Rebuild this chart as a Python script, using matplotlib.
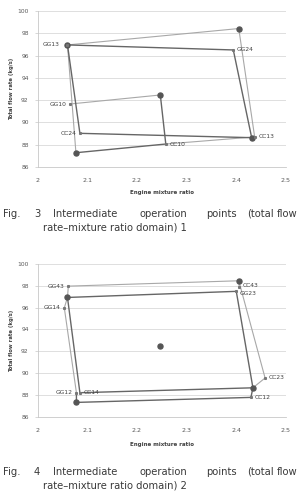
import matplotlib.pyplot as plt
import numpy as np

# ---- Fig. 3 data (engine mixture ratio, total flow rate kg/s) ----
f3_dark_x = [2.060, 2.394, 2.431, 2.085, 2.060]      # GG13 -> GG24 -> corner -> CC24 -> GG13
f3_dark_y = [96.95, 96.50, 88.63, 89.02, 96.95]
f3_dark2_x = [2.077, 2.258, 2.247]                    # corner -> CC10 -> nominal
f3_dark2_y = [87.28, 88.06, 92.46]
f3_light_x = [2.077, 2.060, 2.405, 2.437, 2.258]      # corner -> GG13 -> corner -> CC13 -> CC10
f3_light_y = [87.28, 96.95, 98.42, 88.70, 88.06]
f3_light2_x = [2.247, 2.065]                          # nominal -> GG10
f3_light2_y = [92.46, 91.65]
f3_dot_x = [2.060, 2.405, 2.431, 2.077, 2.247]
f3_dot_y = [96.95, 98.42, 88.63, 87.28, 92.46]
f3_names = ['GG13', 'GG10', 'CC24', 'GG24', 'CC13', 'CC10']
f3_name_x = [2.060, 2.065, 2.085, 2.394, 2.437, 2.258]
f3_name_y = [96.95, 91.65, 89.02, 96.50, 88.70, 88.06]
f3_side = ['l', 'l', 'l', 'r', 'r', 'r']

# ---- Fig. 4 data ----
f4_dark_x = [2.060, 2.400, 2.4335, 2.085, 2.060]     # A -> GG23 -> C -> CC14 -> A
f4_dark_y = [96.94, 97.50, 88.65, 88.20, 96.94]
f4_dark2_x = [2.078, 2.078, 2.4295, 2.4335]          # GG12 -> D -> CC12 -> C
f4_dark2_y = [88.20, 87.31, 87.77, 88.65]
f4_light_x = [2.078, 2.0536, 2.060, 2.0617, 2.405, 2.458, 2.4335]
f4_light_y = [88.20, 95.99, 96.94, 97.98, 98.47, 89.55, 88.65]
f4_light2_x = [2.405, 2.406]                          # B -> CC43
f4_light2_y = [98.47, 97.86]
f4_dot_x = [2.060, 2.405, 2.4335, 2.078, 2.247]
f4_dot_y = [96.94, 98.47, 88.65, 87.31, 92.45]
f4_names = ['GG43', 'GG14', 'GG12', 'CC14', 'CC43', 'GG23', 'CC23', 'CC12']
f4_name_x = [2.0617, 2.0536, 2.078, 2.085, 2.406, 2.400, 2.458, 2.4295]
f4_name_y = [97.98, 95.99, 88.20, 88.20, 97.86, 97.50, 89.55, 87.77]
f4_side = ['l', 'l', 'l', 'r', 'r', 'r', 'r', 'r']

x_ticks = [2, 2.1, 2.2, 2.3, 2.4, 2.5]
x_ticklabels = ['2', '2.1', '2.2', '2.3', '2.4', '2.5']
y_ticks = [86, 88, 90, 92, 94, 96, 98, 100]

DARK = '#666666'
LIGHT = '#a8a8a8'
TXT = '#404040'

fig = plt.figure(figsize=(2.98, 4.97), dpi=100)


def panel(ax, dark, dark2, light, light2, dots, names, nx, ny, side, label_offsets):
    ax.plot(light[0], light[1], color=LIGHT, lw=0.8, zorder=2)
    ax.plot(light2[0], light2[1], color=LIGHT, lw=0.8, zorder=2)
    ax.plot(dark[0], dark[1], color=DARK, lw=1.0, zorder=3)
    ax.plot(dark2[0], dark2[1], color=DARK, lw=1.0, zorder=3)
    ax.plot(dots[0], dots[1], 'o', color='#555555', ms=3.6, ls='none', zorder=4)
    ax.plot(nx, ny, 's', color='#777777', ms=1.2, ls='none', zorder=4)
    for i, n in enumerate(names):
        dx, dy = label_offsets.get(n, (0, 0))
        if side[i] == 'l':
            ax.annotate(n, (nx[i], ny[i]), xytext=(-2.5 + dx, dy), textcoords='offset points',
                        ha='right', va='center', fontsize=4.3, color=TXT)
        else:
            ax.annotate(n, (nx[i], ny[i]), xytext=(2.5 + dx, dy), textcoords='offset points',
                        ha='left', va='center', fontsize=4.3, color=TXT)
    ax.set_xlim(2, 2.5)
    ax.set_ylim(86, 100)
    ax.set_xticks(x_ticks)
    ax.set_xticklabels(x_ticklabels)
    ax.set_yticks(y_ticks)
    ax.yaxis.grid(True, color='#d9d9d9', lw=0.6)
    ax.set_axisbelow(True)
    for s in ['top', 'right']:
        ax.spines[s].set_visible(False)
    for s in ['left', 'bottom']:
        ax.spines[s].set_color('#c8c8c8')
        ax.spines[s].set_linewidth(0.6)
    ax.tick_params(axis='y', length=2, width=0.5, color='#c8c8c8', pad=4.5,
                   labelsize=4.3, labelcolor='#595959')
    ax.tick_params(axis='x', length=0, pad=8, labelsize=4.6, labelcolor='#595959')
    ax.text(-0.105, 0.5, 'Total flow rate (kg/s)', transform=ax.transAxes, rotation=90,
            ha='center', va='center', fontsize=3.8, fontweight='bold', color=TXT)


ax1 = fig.add_axes([0.1265, 0.664, 0.833, 0.314])
panel(ax1, (f3_dark_x, f3_dark_y), (f3_dark2_x, f3_dark2_y),
      (f3_light_x, f3_light_y), (f3_light2_x, f3_light2_y),
      (f3_dot_x, f3_dot_y), f3_names, f3_name_x, f3_name_y, f3_side,
      {'GG13': (-3, 0)})
ax1.text(0.5, -0.165, 'Engine mixture ratio', transform=ax1.transAxes,
         ha='center', va='center', fontsize=4.0, fontweight='bold', color=TXT)

ax2 = fig.add_axes([0.1265, 0.1616, 0.833, 0.307])
panel(ax2, (f4_dark_x, f4_dark_y), (f4_dark2_x, f4_dark2_y),
      (f4_light_x, f4_light_y), (f4_light2_x, f4_light2_y),
      (f4_dot_x, f4_dot_y), f4_names, f4_name_x, f4_name_y, f4_side,
      {'CC43': (0, 1.2), 'GG23': (0, -1.2)})
ax2.text(0.5, -0.185, 'Engine mixture ratio', transform=ax2.transAxes,
         ha='center', va='center', fontsize=4.0, fontweight='bold', color=TXT)

# captions (justified first line like the page)
cap_words = ['Fig.', '{}', 'Intermediate', 'operation', 'points', '(total']
cap_x = [3, 34, 53, 140, 206, 247]
captions = [(3, 1, 214, 228), (4, 2, 472, 486)]
for num, part, y1, y2 in captions:
    for w, xp in zip(cap_words, cap_x):
        fig.text(xp / 298, 1 - y1 / 497, w.format(num), ha='left', va='center',
                 fontsize=7.2, color='#3a3a3a')
    fig.text(297.5 / 298, 1 - y1 / 497, 'flow', ha='right', va='center',
             fontsize=7.2, color='#3a3a3a')
    fig.text(43 / 298, 1 - y2 / 497, 'rate\u2013mixture ratio domain) {}'.format(part),
             ha='left', va='center', fontsize=7.2, color='#3a3a3a')

fig.savefig('out.png', dpi=100)
